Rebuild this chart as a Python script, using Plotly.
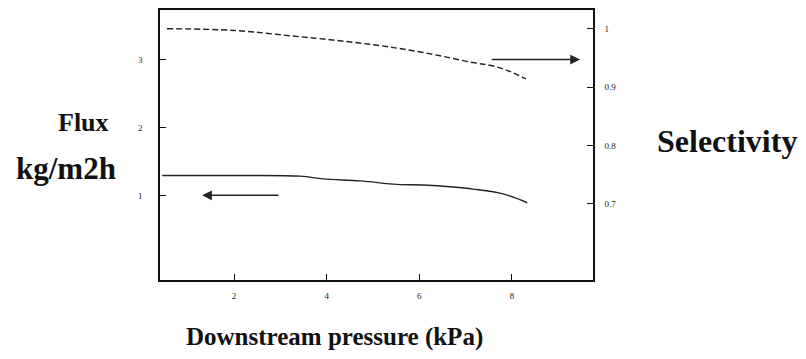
import plotly.graph_objects as go

# Data
flux_x = [0.45, 1.98, 3.43, 3.92, 4.72, 5.52, 6.08, 6.73, 7.16, 7.81, 8.33]
flux_y = [1.30, 1.30, 1.29, 1.25, 1.22, 1.17, 1.16, 1.13, 1.10, 1.03, 0.90]

sel_x = [0.55, 2.0, 3.2, 4.2, 5.15, 6.1, 7.15, 7.6, 7.95, 8.3]
sel_y = [1.0, 0.997, 0.988, 0.98, 0.971, 0.959, 0.942, 0.936, 0.927, 0.914]

x_ticks = [2, 4, 6, 8]
flux_ticks = [1, 2, 3]
sel_ticks = [0.7, 0.8, 0.9, 1]
sel_tick_text = ["0.7", "0.8", "0.9", "1"]

# arrows: (tail x, head x, y)
flux_arrow = (2.99, 1.31, 1.01)
sel_arrow = (7.53, 9.47, 0.947)

serif = "Liberation Serif, Times New Roman, serif"

# page offset (browser body margin)
OFF = 8
W, H = 806 - OFF, 359 - OFF
L, R, T, B = 160 - OFF, 213, 0, 79
pw, ph = W - L - R, H - T - B


def px(xp, yp):
    """page pixel -> paper coords"""
    return (xp - OFF - L) / pw, 1 - (yp - OFF - T) / ph


fig = go.Figure()
fig.add_trace(go.Scatter(x=flux_x, y=flux_y, mode="lines",
                         line=dict(color="#222222", width=1.4, shape="spline"),
                         showlegend=False))
fig.add_trace(go.Scatter(x=sel_x, y=sel_y, mode="lines", yaxis="y2",
                         line=dict(color="#222222", width=1.4, dash="6px,3px", shape="spline"),
                         showlegend=False))

fig.add_annotation(x=flux_arrow[1], y=flux_arrow[2], ax=flux_arrow[0], ay=flux_arrow[2],
                   xref="x", yref="y", axref="x", ayref="y", showarrow=True,
                   arrowhead=2, arrowsize=1.3, arrowwidth=1.5, arrowcolor="#222222", text="")
fig.add_annotation(x=sel_arrow[1], y=sel_arrow[2], ax=sel_arrow[0], ay=sel_arrow[2],
                   xref="x", yref="y2", axref="x", ayref="y2", showarrow=True,
                   arrowhead=2, arrowsize=1.3, arrowwidth=1.5, arrowcolor="#222222", text="")

texts = [
    ("<b>Flux</b>", 83, 121, 26, "center"),
    ("<b>kg/m2h</b>", 66, 168, 31, "center"),
    ("<b>Selectivity</b>", 655, 140, 32, "left"),
    ("<b>Downstream pressure (kPa)</b>", 334, 337, 25, "center"),
]
for t, xp, yp, sz, anc in texts:
    xx, yy = px(xp, yp)
    fig.add_annotation(x=xx, y=yy, xref="paper", yref="paper", text=t, showarrow=False,
                       xanchor=anc, yanchor="middle",
                       font=dict(family=serif, size=sz, color="#111"))

tickfont = dict(family=serif, size=9, color="#222")
fig.update_layout(
    width=W, height=H,
    margin=dict(l=L, r=R, t=T, b=B),
    paper_bgcolor="white", plot_bgcolor="white",
    xaxis=dict(range=[0.40, 9.75], tickvals=x_ticks, ticks="inside", ticklen=6,
               showgrid=False, zeroline=False, showline=True, linecolor="#111",
               linewidth=1.5, mirror=True, tickfont=tickfont, ticklabelstandoff=6,
               tickcolor="#111"),
    yaxis=dict(range=[-0.232, 3.725], tickvals=flux_ticks, ticks="inside", ticklen=6,
               showgrid=False, zeroline=False, showline=True, linecolor="#111",
               linewidth=1.5, tickfont=tickfont, ticklabelstandoff=14, tickcolor="#111"),
    yaxis2=dict(range=[0.5695, 1.032], tickvals=sel_ticks, ticktext=sel_tick_text,
                overlaying="y", side="right", ticks="inside", ticklen=6,
                showgrid=False, zeroline=False, showline=True, linecolor="#111",
                linewidth=1.5, tickfont=tickfont, ticklabelstandoff=8, tickcolor="#111"),
)

fig.write_html("out.html")
